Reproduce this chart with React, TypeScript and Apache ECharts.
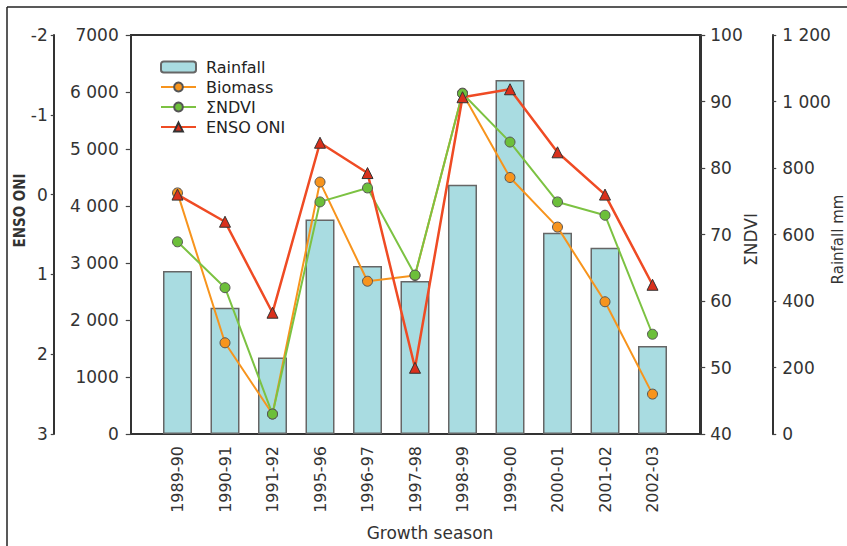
import React, { useEffect, useRef } from 'react';
import * as echarts from 'echarts';

const categories = ['1989-90', '1990-91', '1991-92', '1995-96', '1996-97', '1997-98', '1998-99', '1999-00', '2000-01', '2001-02', '2002-03'];
const rainfall = [490, 380, 230, 645, 505, 460, 750, 1065, 605, 560, 265];
const biomass = [4230, 1600, 350, 4420, 2680, 2780, 5980, 4500, 3630, 2320, 700];
const ndvi = [68.9, 62.0, 43.0, 74.9, 77.0, 63.9, 91.2, 83.9, 74.9, 72.9, 55.0];
const enso = [0.0, 0.34, 1.48, -0.65, -0.27, 2.17, -1.22, -1.32, -0.53, 0.0, 1.13];

const biomassTickLabels: Record<number, string> = {
  0: '0', 1000: '1000', 2000: '2 000', 3000: '3 000', 4000: '4 000', 5000: '5 000', 6000: '6 000', 7000: '7000',
};
const rainfallTickLabels: Record<number, string> = {
  0: '0', 200: '200', 400: '400', 600: '600', 800: '800', 1000: '1 000', 1200: '1 200',
};

export default function App() {
  const ref = useRef<HTMLDivElement>(null);
  useEffect(() => {
    document.body.style.margin = '0';
    document.body.style.overflow = 'hidden';
    const chart = echarts.init(ref.current!, null, { renderer: 'svg', width: 847, height: 546 });
    const font = 'DejaVu Sans';
    const txt = '#333';
    const line = { show: true, lineStyle: { color: '#333', width: 2 } };
    const tick = (len: number) => ({ show: true, length: len, lineStyle: { color: '#444', width: 1.2 } });
    chart.setOption({
      animation: false,
      textStyle: { fontFamily: font, color: txt },
      grid: { left: 153.75, right: 170.75, top: 35, bottom: 112, outerBoundsMode: 'none', containLabel: false },
      legend: {
        orient: 'vertical',
        left: 155,
        top: 54,
        itemWidth: 35,
        itemHeight: 11,
        itemGap: 4,
        textStyle: { fontSize: 16, color: '#222', fontFamily: font, padding: [0, 0, 0, 5] },
        data: ['Rainfall', 'Biomass', 'ΣNDVI', 'ENSO ONI'],
      },
      xAxis: {
        type: 'category',
        data: categories,
        axisLine: line,
        axisTick: { alignWithLabel: true, length: 6, lineStyle: { color: '#444', width: 1.2 } },
        axisLabel: { rotate: 90, margin: 12, fontSize: 16, color: txt },
        name: 'Growth season',
        nameLocation: 'middle',
        nameGap: 90,
        nameMoveOverlap: false,
        nameTextStyle: { fontSize: 17, color: txt, padding: [0, 0, 0, 30] },
      },
      yAxis: [
        {
          type: 'value', position: 'left', offset: 23, min: 0, max: 7000, interval: 1000,
          axisLine: line, axisTick: tick(5), splitLine: { show: false },
          axisLabel: { fontSize: 17, color: txt, margin: 12, formatter: (v: number) => biomassTickLabels[v] ?? String(v) },
        },
        {
          type: 'value', position: 'left', offset: 100, min: -2, max: 3, interval: 1, inverse: true,
          axisLine: line, axisTick: tick(3), splitLine: { show: false },
          axisLabel: { fontSize: 17, color: txt, margin: 6 },
          name: 'ENSO ONI', nameLocation: 'middle', nameGap: 26, nameRotate: 90, nameMoveOverlap: false,
          nameTextStyle: { fontSize: 15, color: txt, fontFamily: 'Liberation Sans Narrow, DejaVu Sans Condensed, sans-serif', fontWeight: 'bold', padding: [0, 0, 0, 48] },
        },
        {
          type: 'value', position: 'right', offset: 24, min: 40, max: 100, interval: 10,
          axisLine: line, axisTick: tick(5), splitLine: { show: false },
          axisLabel: { fontSize: 17, color: txt, margin: 10 },
          name: 'ΣNDVI', nameLocation: 'middle', nameGap: 42, nameRotate: 90, nameMoveOverlap: false,
          nameTextStyle: { fontSize: 17, color: txt, padding: [0, 0, 0, -10] },
        },
        {
          type: 'value', position: 'right', offset: 96, min: 0, max: 1200, interval: 200,
          axisLine: line, axisTick: tick(4), splitLine: { show: false },
          axisLabel: { fontSize: 17, color: txt, margin: 10, formatter: (v: number) => rainfallTickLabels[v] ?? String(v) },
          name: 'Rainfall mm', nameLocation: 'middle', nameGap: 58, nameRotate: 90, nameMoveOverlap: false,
          nameTextStyle: { fontSize: 15, color: txt, padding: [0, 0, 0, -10] },
        },
      ],
      graphic: [
        { type: 'rect', silent: true, z: 0, shape: { x: 131, y: 35, width: 569, height: 399 }, style: { fill: 'none', stroke: '#333', lineWidth: 2 } },
        { type: 'line', silent: true, shape: { x1: 7, y1: 7, x2: 847, y2: 7 }, style: { stroke: '#222', lineWidth: 1.5 } },
        { type: 'line', silent: true, shape: { x1: 7, y1: 7, x2: 7, y2: 546 }, style: { stroke: '#222', lineWidth: 1.5 } },
      ],
      series: [
        {
          name: 'Rainfall', type: 'bar', yAxisIndex: 3, data: rainfall, barWidth: 29,
          itemStyle: { color: '#a9dce1', borderColor: '#666', borderWidth: 1.5 },
        },
        {
          name: 'Biomass', type: 'line', yAxisIndex: 0, data: biomass,
          symbol: 'circle', symbolSize: 10,
          lineStyle: { color: '#f7941d', width: 2 },
          itemStyle: { color: '#f7941d', borderColor: '#555', borderWidth: 1 },
        },
        {
          name: 'ΣNDVI', type: 'line', yAxisIndex: 2, data: ndvi,
          symbol: 'circle', symbolSize: 10,
          lineStyle: { color: '#7cc242', width: 2 },
          itemStyle: { color: '#6cbf3a', borderColor: '#555', borderWidth: 1 },
        },
        {
          name: 'ENSO ONI', type: 'line', yAxisIndex: 1, data: enso,
          symbol: 'triangle', symbolSize: 11,
          lineStyle: { color: '#ef4b24', width: 2.5 },
          itemStyle: { color: '#d9301c', borderColor: '#333', borderWidth: 1 },
        },
      ],
    });
    return () => chart.dispose();
  }, []);
  return <div ref={ref} style={{ width: 847, height: 546 }} />;
}
